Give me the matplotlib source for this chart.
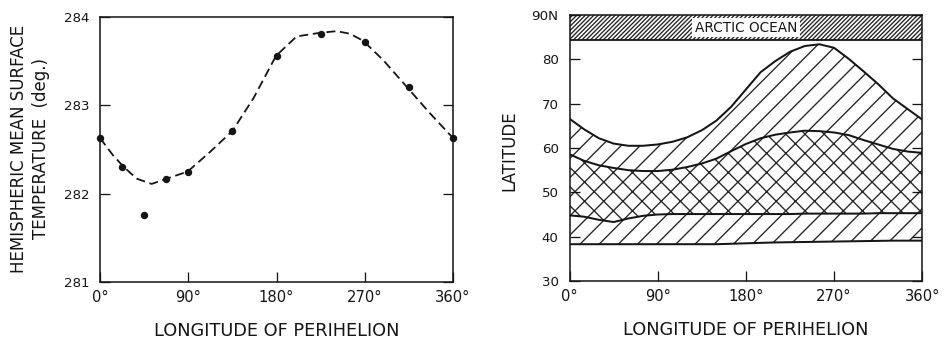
import matplotlib
matplotlib.use("Agg")
import matplotlib.pyplot as plt

# ---------------- data ----------------
# Left panel: model points
lon_points = [0, 22.5, 45, 67.5, 90, 135, 180, 225, 270, 315, 360]
temp_points = [282.63, 282.30, 281.76, 282.17, 282.25, 282.71, 283.56, 283.81, 283.72, 283.21, 282.63]
# Left panel: dashed fitted curve
curve_lon = [0, 13.6, 24.5, 37.4, 52.7, 68, 89.4, 112, 135, 156.5, 179.5, 200.5,
             223.6, 241.4, 255, 268.5, 289, 312, 336.5, 360]
curve_temp = [282.63, 282.43, 282.30, 282.17, 282.11, 282.17, 282.25, 282.47, 282.71,
              283.08, 283.56, 283.78, 283.82, 283.84, 283.81, 283.73, 283.51, 283.22,
              282.91, 282.63]

# Right panel: boundary latitudes vs longitude of perihelion
lon_grid = [0, 15, 30, 45, 60, 75, 90, 105, 120, 135, 150, 165, 180, 195, 210, 225,
            240, 255, 270, 285, 300, 315, 330, 345, 360]
lat_top = [66.6, 64.2, 62.2, 61.0, 60.5, 60.5, 60.8, 61.4, 62.4, 64.0, 66.2, 69.3, 73.2,
           77.1, 79.6, 81.7, 83.0, 83.4, 82.6, 80.1, 77.3, 74.4, 71.2, 68.8, 66.4]
lat_upper_mid = [58.6, 57.1, 56.1, 55.5, 55.0, 54.8, 54.8, 55.1, 55.7, 56.5, 57.6, 59.3,
                 60.9, 62.2, 63.0, 63.5, 63.9, 63.8, 63.5, 62.9, 61.8, 60.8, 59.8, 59.2, 58.9]
lat_lower_mid = [44.8, 44.5, 43.8, 43.3, 44.1, 44.7, 45.0, 45.1, 45.1, 45.1, 45.1, 45.1,
                 45.1, 45.1, 45.1, 45.1, 45.2, 45.2, 45.2, 45.2, 45.2, 45.3, 45.3, 45.3, 45.3]
lat_bottom = [38.3, 38.3, 38.3, 38.3, 38.3, 38.3, 38.3, 38.3, 38.3, 38.3, 38.3, 38.4,
              38.5, 38.6, 38.7, 38.75, 38.8, 38.85, 38.9, 38.95, 39.0, 39.05, 39.1, 39.1, 39.1]
arctic_edge = 84.3

x_ticks = [0, 90, 180, 270, 360]
x_ticklabels = ["0°", "90°", "180°", "270°", "360°"]
temp_ticks = [281, 282, 283, 284]
temp_ticklabels = ["281", "282", "283", "284"]
lat_ticks = [30, 40, 50, 60, 70, 80, 90]
lat_ticklabels = ["30", "40", "50", "60", "70", "80", "90N"]

# ---------------- style ----------------
DPI = 115


def px(v):
    """convert a size in output pixels to points"""
    return v * 72.0 / DPI


plt.rcParams["font.family"] = ["DejaVu Sans"]
plt.rcParams["hatch.linewidth"] = px(1.35)
INK = "#151515"
HATCH = "#262626"

fig = plt.figure(figsize=(945 / DPI, 342 / DPI), dpi=DPI)
ax1 = fig.add_axes([100 / 945, 60 / 342, 353 / 945, 265 / 342])
ax2 = fig.add_axes([569.5 / 945, 61 / 342, 352.8 / 945, 266 / 342])


def style_axes(ax):
    for s in ax.spines.values():
        s.set_linewidth(px(1.55))
        s.set_color(INK)
    ax.tick_params(axis="both", direction="in", length=px(10), width=px(1.3), color=INK,
                   labelcolor=INK)
    ax.tick_params(axis="y", left=True, right=True, labelsize=px(13.4), pad=px(10.8))
    ax.tick_params(axis="x", top=False, labelsize=px(14.8), pad=px(8.1))
    ax.set_xlim(0, 360)
    ax.set_xticks(x_ticks)
    ax.set_xticklabels(x_ticklabels)


# ---------------- left panel ----------------
style_axes(ax1)
ax1.plot(curve_lon, curve_temp, color=INK, lw=px(1.8), linestyle=(0, (5, 2.6)))
ax1.plot(lon_points, temp_points, "o", color=INK, ms=px(5.8), clip_on=False, zorder=5)
ax1.set_ylim(281, 284)
ax1.set_yticks(temp_ticks)
ax1.set_yticklabels(temp_ticklabels)
ax1.set_ylabel("HEMISPHERIC MEAN SURFACE\nTEMPERATURE  (deg.)", fontsize=px(16.6),
               color=INK, linespacing=1.3)
ax1.yaxis.set_label_coords(-0.198, 0.504)
ax1.yaxis.label.set_va("center")
ax1.set_xlabel("LONGITUDE OF PERIHELION", fontsize=px(17.7), color=INK)
ax1.xaxis.set_label_coords(0.5, -0.185)
ax1.xaxis.label.set_va("center")

# ---------------- right panel ----------------
style_axes(ax2)
ax2.set_ylim(30, 90)
ax2.set_yticks(lat_ticks)
ax2.set_yticklabels(lat_ticklabels)

ax2.fill_between(lon_grid, lat_bottom, lat_lower_mid, facecolor="white",
                 edgecolor=HATCH, hatch="//", linewidth=0)
ax2.fill_between(lon_grid, lat_lower_mid, lat_upper_mid, facecolor="white",
                 edgecolor=HATCH, hatch="xx", linewidth=0)
ax2.fill_between(lon_grid, lat_upper_mid, lat_top, facecolor="white",
                 edgecolor=HATCH, hatch="//", linewidth=0)
for lat in (lat_bottom, lat_lower_mid, lat_upper_mid, lat_top):
    ax2.plot(lon_grid, lat, color=INK, lw=px(2.0))

ax2.fill_between([0, 360], [arctic_edge, arctic_edge], [90, 90], facecolor="white",
                 edgecolor=HATCH, hatch="/////////", linewidth=0)
ax2.axhline(arctic_edge, color=INK, lw=px(1.8))
ax2.text(180, (arctic_edge + 90) / 2, "ARCTIC OCEAN", ha="center", va="center",
         fontsize=px(13.6), color=INK,
         bbox=dict(boxstyle="square,pad=0.2", facecolor="white", edgecolor="none"))

ax2.set_ylabel("LATITUDE", fontsize=px(16.6), color=INK)
ax2.yaxis.set_label_coords(-0.171, 0.49)
ax2.yaxis.label.set_va("center")
ax2.set_xlabel("LONGITUDE OF PERIHELION", fontsize=px(17.7), color=INK)
ax2.xaxis.set_label_coords(0.5, -0.185)
ax2.xaxis.label.set_va("center")

fig.savefig("out.png", dpi=DPI, facecolor="white")
